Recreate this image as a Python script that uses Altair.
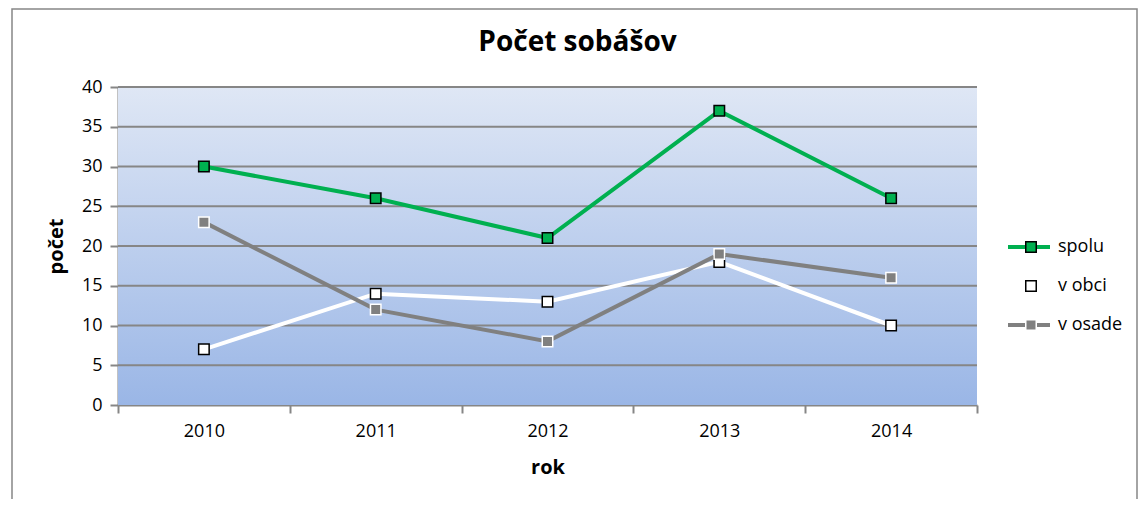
import altair as alt
import pandas as pd

years = ["2010", "2011", "2012", "2013", "2014"]
series_names = ["spolu", "v obci", "v osade"]
spolu = [30, 26, 21, 37, 26]
v_obci = [7, 14, 13, 18, 10]
v_osade = [23, 12, 8, 19, 16]
y_ticks = [0, 5, 10, 15, 20, 25, 30, 35, 40]
grid_ticks = [5, 10, 15, 20, 25, 30, 35, 40]

line_colors = ["#00b050", "#ffffff", "#808080"]
marker_fill = ["#00b050", "#ffffff", "#808080"]
marker_stroke = ["#000000", "#000000", "#ffffff"]

rows = []
for name, vals in zip(series_names, [spolu, v_obci, v_osade]):
    for yr, v in zip(years, vals):
        rows.append({"rok": yr, "series": name, "pocet": v})
df = pd.DataFrame(rows)

FONT = "Open Sans"
GRAY = "#868686"
W, H = 859, 318

xenc = alt.X(
    "rok:N",
    bandPosition=0.5,
    sort=years,
    scale=alt.Scale(type="band", paddingInner=0, paddingOuter=0, domain=years),
    axis=alt.Axis(
        title="rok", labelAngle=0, tickBand="extent", tickSize=8, tickColor=GRAY,
        tickWidth=2, domainColor=GRAY, domainWidth=2, labelFontSize=18, labelFont=FONT,
        labelColor="#000000", labelPadding=9, titleFont=FONT, titleFontSize=20,
        titleFontWeight="bold", titleColor="#000000", titlePadding=17, grid=False,
    ),
)
yscale = alt.Scale(domain=[0, 40], nice=False)
yaxis = alt.Axis(
    title="počet", values=y_ticks, grid=False, tickSize=8, tickColor=GRAY,
    tickWidth=2, domainColor=GRAY, domainWidth=2, labelFontSize=18, labelFont=FONT,
    labelColor="#000000", labelPadding=8, labelOverlap=False, titleFont=FONT,
    titleFontSize=20, titleFontWeight="bold", titleColor="#000000", titlePadding=15,
)
yenc = alt.Y("pocet:Q", scale=yscale, axis=yaxis)

one = pd.DataFrame({"k": [0]})
border = alt.Chart(one).mark_rect(fillOpacity=0, stroke=GRAY, strokeWidth=1.5).encode(
    x=alt.value(-106), x2=alt.value(1019), y=alt.value(-78), y2=alt.value(430)
)

grad = alt.LinearGradient(
    gradient="linear",
    stops=[
        alt.GradientStop(color="#dfe7f5", offset=0),
        alt.GradientStop(color="#9ab6e6", offset=1),
    ],
    x1=0, x2=0, y1=0, y2=1,
)
bg = alt.Chart(one).mark_rect(fill=grad).encode(
    x=alt.value(0), x2=alt.value("width"), y=alt.value(0), y2=alt.value("height")
)

grid = alt.Chart(pd.DataFrame({"g": grid_ticks})).mark_rule(color=GRAY, strokeWidth=2).encode(
    y=alt.Y("g:Q", scale=yscale, axis=yaxis), x=alt.value(0), x2=alt.value("width")
)

common_legend = dict(
    orient="none", title=None, labelFontSize=18, labelFont=FONT, rowPadding=21,
    labelOffset=18,
)

lines = alt.Chart(df).mark_line(strokeWidth=4).encode(
    x=xenc, y=yenc,
    color=alt.Color(
        "series:N",
        scale=alt.Scale(domain=series_names, range=line_colors),
        legend=alt.Legend(
            legendX=902, legendY=151, symbolType="M-3,0H3", symbolSize=196,
            symbolStrokeWidth=4, labelColor="transparent", **common_legend
        ),
    ),
)

pt_legend = alt.Legend(
    legendX=904, legendY=151, symbolType="square", symbolSize=110,
    symbolStrokeWidth=1.5, labelColor="#000000", symbolOpacity=1, **common_legend
)
points = alt.Chart(df).mark_point(
    shape="square", filled=True, size=110, strokeWidth=1.5, opacity=1
).encode(
    x=xenc, y=yenc,
    fill=alt.Fill("series:N", scale=alt.Scale(range=marker_fill), legend=pt_legend),
    stroke=alt.Stroke("series:N", scale=alt.Scale(range=marker_stroke), legend=pt_legend),
)

chart = (
    alt.layer(border, bg, grid, lines, points)
    .resolve_scale(color="independent", fill="independent", stroke="independent")
    .properties(
        width=W, height=H,
        title=alt.TitleParams(
            "Počet sobášov", font=FONT, fontSize=28, fontWeight="bold", color="#000000",
            anchor="middle", dx=30, offset=-49,
        ),
        autosize=alt.AutoSizeParams(type="none"),
        padding={"left": 110, "top": 79, "right": 161, "bottom": 94},
    )
    .configure(background="#ffffff")
    .configure_view(stroke=None)
)

chart.save("out.html", embed_options={"renderer": "svg", "actions": False})
